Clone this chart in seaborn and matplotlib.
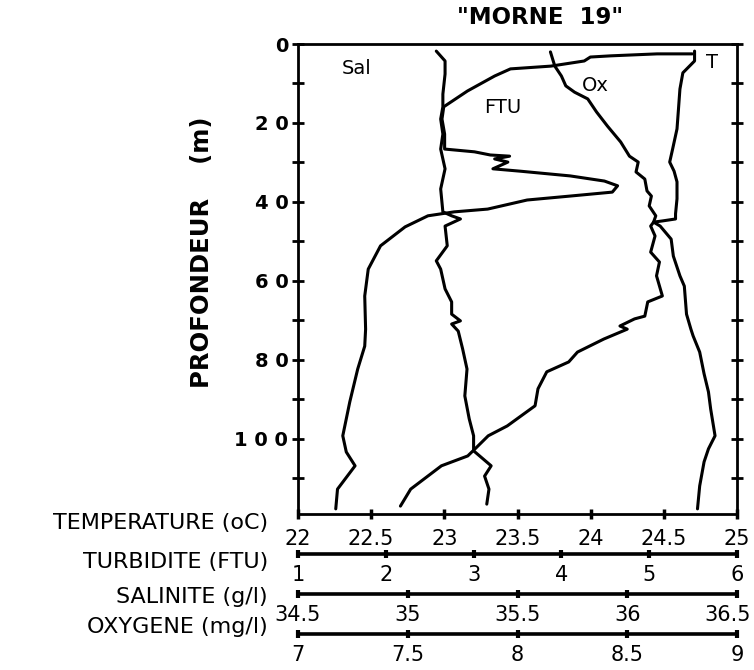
import matplotlib
matplotlib.use("Agg")
import matplotlib.pyplot as plt
from matplotlib.transforms import ScaledTranslation
import seaborn as sns
import pandas as pd

# --- Profile data, station "MORNE 19" ---------------------------------
temp_depth = [1.8, 2.8, 4.3, 7.3, 11.4, 16.5, 21.5, 26.6, 29.9, 32.2, 34.9, 39.2,
              43.0, 44.3, 44.8, 45.1, 46.1, 48.6, 52.7, 55.2, 58.7, 63.8, 65.3,
              68.9, 69.6, 71.4, 72.2, 74.7, 78.0, 80.5, 83.0, 87.3, 91.6, 96.7,
              99.2, 102.5, 104.3, 106.8, 112.7, 117.0]
temp_val = [24.71, 24.71, 24.71, 24.63, 24.61, 24.60, 24.59, 24.56, 24.54, 24.57,
            24.59, 24.59, 24.58, 24.58, 24.49, 24.43, 24.41, 24.44, 24.41, 24.47,
            24.45, 24.49, 24.39, 24.37, 24.30, 24.20, 24.25, 24.09, 23.91, 23.85,
            23.70, 23.64, 23.62, 23.43, 23.30, 23.21, 23.16, 22.98, 22.77, 22.70]

ftu_depth = [2.5, 2.5, 3.0, 3.3, 4.3, 5.6, 6.3, 8.1, 11.9, 15.9, 19.0, 22.8, 26.6,
             27.3, 28.1, 28.4, 29.1, 29.9, 31.6, 32.2, 33.4, 34.7, 35.9, 37.5,
             38.5, 39.5, 41.8, 42.5, 43.5, 46.3, 51.1, 57.0, 63.8, 72.2, 76.5,
             82.3, 90.6, 99.2, 103.3, 106.8, 112.7, 117.7]
ftu_val = [5.49, 5.09, 4.56, 4.33, 4.26, 3.88, 3.42, 3.24, 2.93, 2.66, 2.64, 2.67,
           2.67, 3.01, 3.19, 3.41, 3.24, 3.39, 3.22, 3.53, 4.10, 4.49, 4.64, 4.58,
           4.10, 3.61, 3.16, 2.78, 2.48, 2.22, 1.94, 1.80, 1.76, 1.77, 1.76, 1.68,
           1.59, 1.51, 1.55, 1.65, 1.45, 1.43]

sal_depth = [1.8, 4.3, 7.6, 12.7, 15.9, 19.0, 22.8, 26.6, 31.6, 36.7, 42.5, 43.5,
             44.3, 46.1, 51.1, 54.9, 57.0, 62.0, 65.3, 68.4, 70.1, 70.9, 72.7,
             77.2, 82.3, 89.1, 94.9, 99.2, 103.0, 106.8, 109.4, 112.7, 116.5]
sal_val = [35.13, 35.17, 35.17, 35.16, 35.16, 35.15, 35.16, 35.15, 35.17, 35.15,
           35.16, 35.20, 35.24, 35.17, 35.18, 35.13, 35.15, 35.17, 35.20, 35.20,
           35.24, 35.20, 35.23, 35.25, 35.27, 35.26, 35.28, 35.30, 35.30, 35.38,
           35.35, 35.37, 35.36]

oxy_depth = [2.0, 5.6, 8.1, 10.6, 12.2, 13.9, 17.2, 20.8, 24.8, 28.4, 29.9, 32.4,
             34.2, 37.2, 38.5, 41.0, 43.5, 45.1, 46.1, 49.4, 53.7, 58.7, 61.3,
             68.4, 72.2, 73.9, 78.0, 83.5, 88.1, 92.4, 99.2, 102.5, 105.8, 111.9,
             117.7]
oxy_val = [8.15, 8.17, 8.20, 8.22, 8.26, 8.32, 8.36, 8.41, 8.47, 8.51, 8.55, 8.54,
           8.58, 8.59, 8.61, 8.60, 8.63, 8.62, 8.65, 8.70, 8.71, 8.74, 8.76, 8.77,
           8.79, 8.80, 8.83, 8.85, 8.87, 8.88, 8.90, 8.87, 8.85, 8.83, 8.82]

depth_ticks = [0, 20, 40, 60, 80, 100]
depth_ticklabels = ["0", "2 0", "4 0", "6 0", "8 0", "1 0 0"]
temp_ticks = [22, 22.5, 23, 23.5, 24, 24.5, 25]
temp_ticklabels = ["22", "22.5", "23", "23.5", "24", "24.5", "25"]
ftu_ticks = [1, 2, 3, 4, 5, 6]
ftu_ticklabels = ["1", "2", "3", "4", "5", "6"]
sal_ticks = [34.5, 35, 35.5, 36, 36.5]
sal_ticklabels = ["34.5", "35", "35.5", "36", "36.5"]
oxy_ticks = [7, 7.5, 8, 8.5, 9]
oxy_ticklabels = ["7", "7.5", "8", "8.5", "9"]

axis_names = ["TEMPERATURE (oC)", "TURBIDITE (FTU)", "SALINITE (g/l)", "OXYGENE (mg/l)"]
curve_names = ["T", "FTU", "Sal", "Ox"]

# --- Styling --------------------------------------------------------------
sns.set_style("ticks")
plt.rcParams["font.family"] = ["DejaVu Sans"]
plt.rcParams.update({
    "axes.linewidth": 2.0,
    "text.color": "black",
    "axes.edgecolor": "black",
    "axes.labelcolor": "black",
    "xtick.color": "black",
    "ytick.color": "black",
})

W, H = 754, 670
fig = plt.figure(figsize=(W / 100, H / 100), dpi=100)
left, right, top, bottom = 298, 737, 44, 514
ax = fig.add_axes([left / W, 1 - bottom / H, (right - left) / W, (bottom - top) / H])

line_kw = dict(color="black", linewidth=2.2, sort=False, estimator=None)

# temperature on the main axes
df_t = pd.DataFrame({"val": temp_val, "depth": temp_depth})
sns.lineplot(data=df_t, x="val", y="depth", ax=ax, **line_kw)
ax.set_xlim(22, 25)
ax.set_ylim(119, 0)
ax.set_xlabel("")
ax.set_ylabel("")

ax.set_yticks(depth_ticks)
ax.set_yticklabels(depth_ticklabels, fontweight="bold", fontsize=14)
ax.set_yticks([10, 30, 50, 70, 90, 110], minor=True)
ax.tick_params(axis="y", which="both", direction="inout", length=8, width=2,
               left=True, right=True, pad=3, colors="black")
ax.set_xticks(temp_ticks)
ax.set_xticklabels(temp_ticklabels, fontsize=15)
ax.tick_params(axis="x", which="major", direction="inout", length=7, width=2.5,
               top=False, pad=7, colors="black")
for s in ax.spines.values():
    s.set_linewidth(2.0)
    s.set_color("black")


def lower_axis(offset_px, lims, ticks, labels, x, y):
    """Extra x scale drawn as a free line below the main frame."""
    a = ax.twiny()
    a.xaxis.set_ticks_position("bottom")
    a.xaxis.set_label_position("bottom")
    a.spines["bottom"].set_position(("outward", offset_px * 0.72))
    a.spines["bottom"].set_linewidth(2.6)
    a.spines["bottom"].set_color("black")
    for s in ("top", "left", "right"):
        a.spines[s].set_visible(False)
    df = pd.DataFrame({"val": x, "depth": y})
    sns.lineplot(data=df, x="val", y="depth", ax=a, **line_kw)
    a.set_xlim(*lims)
    a.set_xticks(ticks)
    a.set_xticklabels(labels, fontsize=15)
    a.tick_params(axis="x", direction="inout", length=6, width=3, pad=5,
                  colors="black")
    a.set_xlabel("")
    a.set_ylabel("")
    return a


ax_ftu = lower_axis(40, (1, 6), ftu_ticks, ftu_ticklabels, ftu_val, ftu_depth)
ax_sal = lower_axis(80, (34.5, 36.5), sal_ticks, sal_ticklabels, sal_val, sal_depth)
ax_oxy = lower_axis(120, (7, 9), oxy_ticks, oxy_ticklabels, oxy_val, oxy_depth)
ax.set_ylim(119, 0)

# keep the last salinity label inside the figure
last = ax_sal.get_xticklabels()[-1]
last.set_transform(last.get_transform()
                   + ScaledTranslation(-9 / 100, 0, fig.dpi_scale_trans))

# curve names, placed in temperature units
ax.text(24.83, 4.6, curve_names[0], fontsize=14, ha="center", va="center")
ax.text(23.40, 16.0, curve_names[1], fontsize=14, ha="center", va="center")
ax.text(22.40, 6.3, curve_names[2], fontsize=14, ha="center", va="center")
ax.text(24.03, 10.6, curve_names[3], fontsize=14, ha="center", va="center")

# scale names on the left of each x line
for name, ypx in zip(axis_names, [523, 562, 597, 627]):
    fig.text(268 / W, 1 - ypx / H, name, fontsize=16, ha="right", va="center")

fig.text(202 / W, 1 - 252 / H, "PROFONDEUR    (m)", rotation=90, fontsize=17.5,
         fontweight="bold", ha="center", va="center")
fig.text(540 / W, 1 - 18 / H, "\"MORNE  19\"", fontsize=16.5, fontweight="bold",
         ha="center", va="center")

fig.savefig("out.png", dpi=100)
